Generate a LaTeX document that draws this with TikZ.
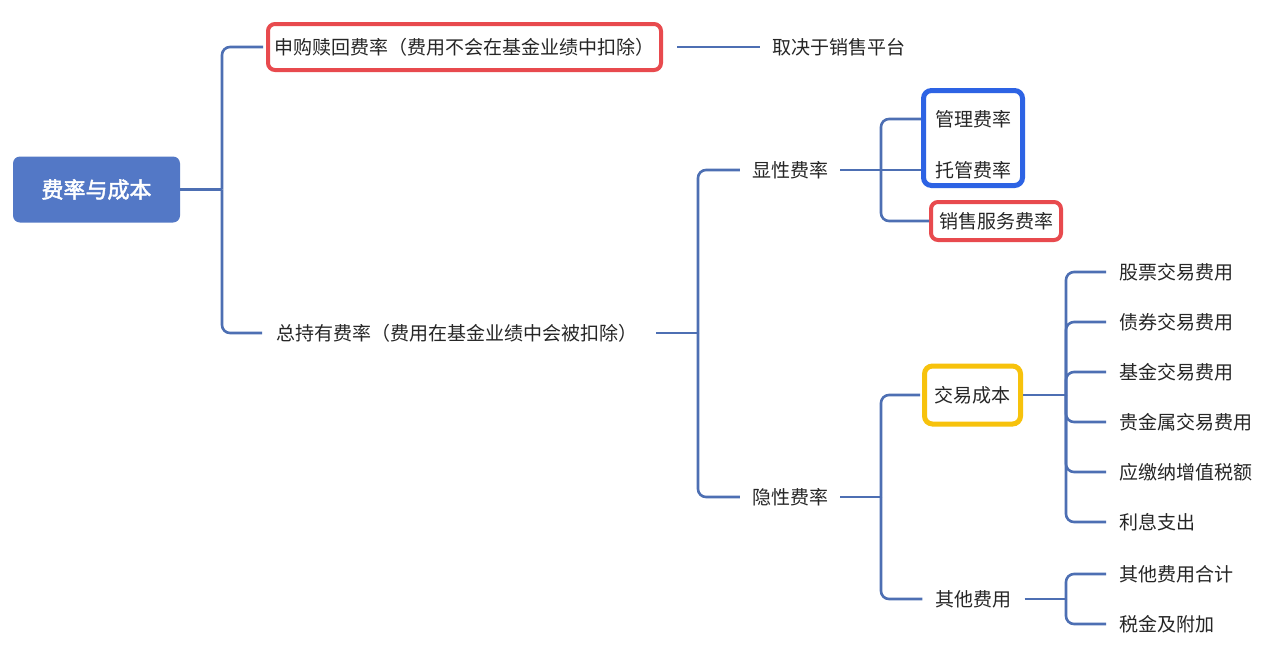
\documentclass[tikz,border=0pt]{standalone}
\usepackage{fontspec}
\setmainfont{Noto Sans CJK SC}
\newfontfamily\rootfont{Noto Sans CJK SC}[FakeBold=2.2]
\definecolor{linec}{HTML}{4D6FB3}
\definecolor{rootc}{HTML}{5378C6}
\definecolor{redc}{HTML}{E84A4E}
\definecolor{bluec}{HTML}{2D63E4}
\definecolor{yelc}{HTML}{F7C20C}
\definecolor{txtc}{HTML}{262626}
\tikzset{
  conn/.style={draw=linec, line width=2.6pt, rounded corners=8pt},
  txt/.style={text=txtc, font=\fontsize{19}{22}\selectfont, inner xsep=12pt, inner ysep=4pt},
  rootbox/.style={fill=rootc, rounded corners=7pt, text=white, font=\rootfont\fontsize{22}{25}\selectfont, minimum width=167pt, minimum height=66pt},
  redframe/.style={txt, draw=redc, line width=4pt, rounded corners=7pt},
  yelframe/.style={txt, draw=yelc, line width=5pt, rounded corners=8pt},
  blueframe/.style={draw=bluec, line width=5pt, rounded corners=8pt},
}
\begin{document}
\begin{tikzpicture}[x=1pt,y=-1pt]
\useasboundingbox[fill=white] (0,0) rectangle (1280,664);

% nodes
\node[rootbox] (root) at (96.5,189.5) {费率与成本};
\node[redframe, minimum width=393pt, minimum height=46pt, inner xsep=4pt] (sg) at (464.5,47) {申购赎回费率（费用不会在基金业绩中扣除）};
\node[txt, anchor=west] (qj) at (760,47) {取决于销售平台};
\node[txt, anchor=west, inner xsep=14pt] (zc) at (262,333) {总持有费率（费用在基金业绩中会被扣除）};

\node[txt] (xx) at (790,170) {显性费率};
\node[txt] (yx) at (790,497) {隐性费率};

\node[txt, minimum width=104pt] (gl) at (973,119) {管理费率};
\node[txt, minimum width=104pt] (tg) at (973,170) {托管费率};
\draw[blueframe] (923.5,90.5) rectangle (1022.5,185.5);
\node[redframe, minimum width=130pt, minimum height=38pt, inner xsep=6pt] (xs) at (996,221) {销售服务费率};

\node[yelframe, minimum width=96pt, minimum height=58pt, inner xsep=6pt] (jy) at (972.5,395) {交易成本};
\node[txt, inner xsep=13pt] (qt) at (973.5,599) {其他费用};

\node[txt, anchor=west, inner xsep=13pt] (l1) at (1106,272) {股票交易费用};
\node[txt, anchor=west, inner xsep=13pt] (l2) at (1106,322) {债券交易费用};
\node[txt, anchor=west, inner xsep=13pt] (l3) at (1106,372) {基金交易费用};
\node[txt, anchor=west, inner xsep=13pt] (l4) at (1106,422) {贵金属交易费用};
\node[txt, anchor=west, inner xsep=13pt] (l5) at (1106,472) {应缴纳增值税额};
\node[txt, anchor=west, inner xsep=13pt] (l6) at (1106,522) {利息支出};
\node[txt, anchor=west, inner xsep=13pt] (m1) at (1106,574) {其他费用合计};
\node[txt, anchor=west, inner xsep=13pt] (m2) at (1106,624) {税金及附加};

% connectors: root
\draw[conn] (root.east) -- (root.east -| 222,0);
\draw[conn] (root.east -| 222,0) |- ([xshift=-3pt]sg.west);
\draw[conn] (root.east -| 222,0) |- (zc.west);
\draw[conn] ([xshift=14pt]sg.east) -- (qj.west);

% total holding
\draw[conn] ([xshift=5pt]zc.east) -- (zc.east -| 698,0);
\draw[conn] (zc.east -| 698,0) |- (xx.west);
\draw[conn] (zc.east -| 698,0) |- (yx.west);

% explicit
\draw[conn] (xx.east) -- (tg.west);
\draw[conn] (xx.east -| 881,0) |- (gl.west);
\draw[conn] (xx.east -| 881,0) |- (xs.west);

% implicit
\draw[conn] (yx.east) -- (yx.east -| 881,0);
\draw[conn] (yx.east -| 881,0) |- ([xshift=-2pt]jy.west);
\draw[conn] (yx.east -| 881,0) |- (qt.west);

% transaction cost
\draw[conn] (jy.east) -- (jy.east -| 1066,0);
\foreach \n in {l1,l2,l3,l4,l5,l6}{
  \draw[conn] (jy.east -| 1066,0) |- (\n.west);
}
% other
\draw[conn] (qt.east) -- (qt.east -| 1066,0);
\draw[conn] (qt.east -| 1066,0) |- (m1.west);
\draw[conn] (qt.east -| 1066,0) |- (m2.west);
\end{tikzpicture}
\end{document}
